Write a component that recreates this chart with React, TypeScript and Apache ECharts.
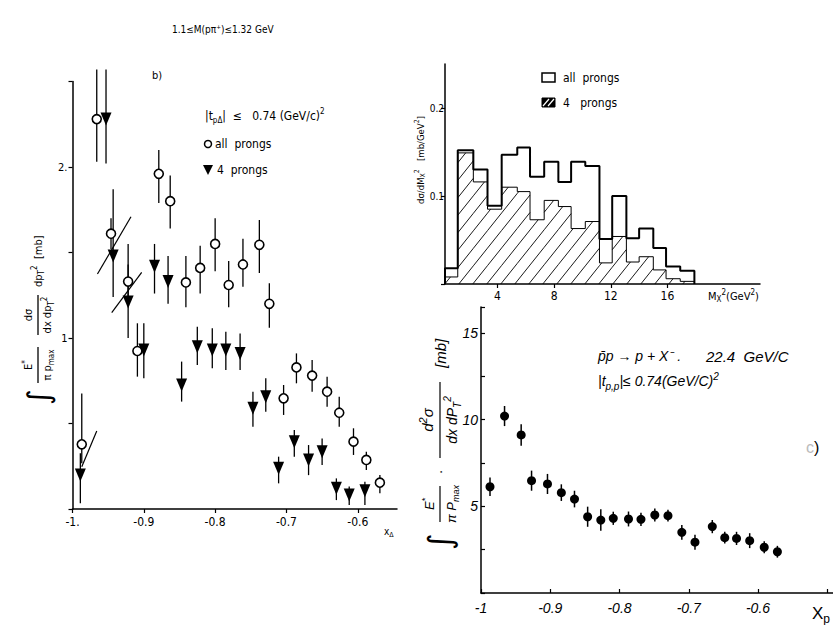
import React, { useEffect, useRef } from "react";
import * as echarts from "echarts";

// ---- Panel b): all prongs (open circles) ----
const leftAllX = [-0.987, -0.966, -0.946, -0.922, -0.909, -0.879, -0.863, -0.841, -0.821, -0.8, -0.781, -0.761, -0.738, -0.724, -0.704, -0.686, -0.664, -0.643, -0.626, -0.606, -0.588, -0.569];
const leftAllY = [0.378, 2.28, 1.61, 1.33, 0.924, 1.96, 1.8, 1.325, 1.41, 1.55, 1.31, 1.43, 1.545, 1.2, 0.647, 0.828, 0.78, 0.686, 0.563, 0.394, 0.287, 0.154];
const leftAllLo = [0.267, 2.03, 1.52, 1.24, 0.774, 1.79, 1.64, 1.18, 1.26, 1.39, 1.18, 1.3, 1.38, 1.06, 0.55, 0.735, 0.686, 0.598, 0.481, 0.316, 0.228, 0.092];
const leftAllHi = [0.676, 2.57, 1.7, 1.43, 1.086, 2.1, 1.95, 1.48, 1.54, 1.7, 1.45, 1.58, 1.69, 1.32, 0.725, 0.91, 0.871, 0.774, 0.657, 0.472, 0.335, 0.199];

// ---- Panel b): 4 prongs (filled down triangles) ----
const left4X = [-0.989, -0.953, -0.943, -0.922, -0.9, -0.885, -0.866, -0.847, -0.825, -0.804, -0.785, -0.765, -0.747, -0.729, -0.711, -0.689, -0.669, -0.65, -0.63, -0.612, -0.59];
const left4Y = [0.199, 2.28, 1.48, 1.21, 0.93, 1.42, 1.33, 0.725, 0.949, 0.93, 0.93, 0.91, 0.589, 0.657, 0.238, 0.394, 0.287, 0.335, 0.121, 0.082, 0.107];
const left4Lo = [0.033, 2.02, 1.24, 1.0, 0.764, 1.26, 1.2, 0.628, 0.842, 0.823, 0.813, 0.813, 0.481, 0.569, 0.15, 0.306, 0.198, 0.257, 0.052, 0.023, 0.023];
const left4Hi = [0.326, 2.57, 1.87, 1.55, 1.086, 1.55, 1.48, 0.862, 1.066, 1.057, 1.037, 1.027, 0.686, 0.764, 0.306, 0.462, 0.374, 0.413, 0.179, 0.131, 0.16];

// slanted strokes in panel b)
const slashX1 = [-0.965, -0.945, -0.987];
const slashY1 = [1.374, 1.148, 0.247];
const slashX2 = [-0.918, -0.903, -0.966];
const slashY2 = [1.709, 1.384, 0.456];

// ---- Histogram dσ/dM_X² ----
const histEdges = [0.3, 1.2, 2.3, 3.3, 4.3, 5.4, 6.3, 7.3, 8.3, 9.2, 10.2, 11.2, 12.1, 13.1, 14.0, 15.0, 15.9, 16.9, 17.9];
const histAll = [0.018, 0.152, 0.13, 0.089, 0.147, 0.155, 0.122, 0.139, 0.116, 0.139, 0.134, 0.051, 0.1, 0.052, 0.063, 0.041, 0.02, 0.015];
const hist4 = [0.008, 0.149, 0.116, 0.085, 0.11, 0.105, 0.073, 0.095, 0.088, 0.063, 0.071, 0.024, 0.054, 0.025, 0.031, 0.016, 0.006, 0.003];
const histTicks = [4, 8, 12, 16];

// ---- Panel c): p̄p → p + X⁻ ----
const rbX = [-0.987, -0.966, -0.942, -0.927, -0.904, -0.884, -0.865, -0.846, -0.827, -0.809, -0.787, -0.769, -0.749, -0.73, -0.71, -0.691, -0.666, -0.648, -0.631, -0.612, -0.591, -0.572];
const rbY = [6.13, 10.21, 9.12, 6.48, 6.29, 5.79, 5.42, 4.4, 4.21, 4.31, 4.27, 4.25, 4.5, 4.46, 3.5, 2.93, 3.83, 3.19, 3.15, 3.02, 2.64, 2.38];
const rbErr = [0.53, 0.58, 0.62, 0.58, 0.58, 0.48, 0.48, 0.58, 0.62, 0.38, 0.43, 0.38, 0.38, 0.34, 0.43, 0.43, 0.38, 0.34, 0.38, 0.43, 0.34, 0.34];

const COND = "'DejaVu Sans Condensed', 'DejaVu Sans', sans-serif";
const ITAL = "'Liberation Sans', Arial, sans-serif";

const ss = (size: number, family: string, style = "normal") => ({
  sub: { fontSize: Math.round(size * 0.7), fontFamily: family, fontStyle: style, verticalAlign: "bottom", lineHeight: Math.round(size * 0.6), fill: "#000" },
  sup: { fontSize: Math.round(size * 0.7), fontFamily: family, fontStyle: style, verticalAlign: "top", lineHeight: Math.round(size * 0.6), fill: "#000" },
  g: { fontSize: size, fontFamily: family, fontStyle: style, fill: "#bbb" },
});

const T = (x: number, y: number, text: string, o: any = {}) => {
  const size = o.size ?? 12;
  const family = o.family ?? COND;
  const fstyle = o.style ?? "normal";
  return {
    type: "text",
    x,
    y,
    silent: true,
    style: {
      text,
      fill: "#000",
      fontSize: size,
      fontFamily: family,
      fontStyle: fstyle,
      lineHeight: Math.round(size * 1.4),
      align: o.align ?? "left",
      textAlign: o.align ?? "left",
      verticalAlign: o.va ?? "middle",
      textVerticalAlign: o.va ?? "middle",
      rich: ss(size, family, fstyle),
    },
  };
};

const L = (x1: number, y1: number, x2: number, y2: number, w = 1.2, c = "#000") => ({
  type: "line",
  silent: true,
  shape: { x1, y1, x2, y2 },
  style: { stroke: c, lineWidth: w },
});

function stepPts(edges: number[], vals: number[]) {
  const pts: number[][] = [[edges[0], 0]];
  vals.forEach((v, i) => pts.push([edges[i], v]));
  pts.push([edges[edges.length - 1], vals[vals.length - 1]]);
  pts.push([edges[edges.length - 1], 0]);
  return pts;
}

const onTenth = (v: number) => Math.abs(v * 10 - Math.round(v * 10)) < 1e-6;

const errSeries = (xi: number, data: number[][], lw: number) => ({
  type: "custom",
  xAxisIndex: xi,
  yAxisIndex: xi,
  data,
  z: 1,
  silent: true,
  clip: false,
  encode: { x: 0, y: [1, 2] },
  renderItem: (_p: any, api: any) => {
    const a = api.coord([api.value(0), api.value(1)]);
    const b = api.coord([api.value(0), api.value(2)]);
    return { type: "line", shape: { x1: a[0], y1: a[1], x2: b[0], y2: b[1] }, style: { stroke: "#000", lineWidth: lw } };
  },
});

export default function App() {
  const ref = useRef<HTMLDivElement>(null);
  useEffect(() => {
    if (!ref.current) return;
    const chart = echarts.init(ref.current, undefined, { renderer: "svg" });
    const axisLine = { show: true, onZero: false, lineStyle: { color: "#000", width: 1.5 } };
    const tick = { show: true, length: 4, lineStyle: { color: "#000", width: 1.2 } };
    const noSplit = { show: false };

    const K = 1.25;
    const S = 17.5;

    const option: any = {
      animation: false,
      backgroundColor: "#fff",
      grid: [
        { left: 72.5, top: 81.5, width: 324.5, height: 427.5 },
        { left: 445, top: 64, width: 315, height: 220 },
        { left: 481, top: 307, width: 352, height: 286 },
      ],
      xAxis: [
        {
          gridIndex: 0, type: "value", min: -1, max: -0.545, interval: 0.1,
          axisLine, axisTick: tick, splitLine: noSplit,
          axisLabel: {
            color: "#000", fontSize: 12, fontFamily: COND, margin: 7, showMaxLabel: false,
            formatter: (v: number) => (!onTenth(v) || v > -0.55 ? "" : Math.abs(v + 1) < 1e-6 ? "-1." : v.toFixed(1)),
          },
        },
        {
          gridIndex: 1, type: "value", min: 0.3, max: 22.53,
          axisLine, splitLine: noSplit,
          axisTick: { ...tick, customValues: histTicks },
          axisLabel: { color: "#000", fontSize: 12, fontFamily: COND, margin: 6, customValues: histTicks },
        },
        {
          gridIndex: 2, type: "value", min: -1, max: -0.4917, interval: 0.1,
          axisLine, axisTick: { ...tick, inside: true }, splitLine: noSplit,
          axisLabel: {
            color: "#000", fontSize: 14, fontFamily: ITAL, fontStyle: "italic", margin: 8, showMaxLabel: false,
            formatter: (v: number) => (!onTenth(v) || v > -0.55 ? "" : Math.abs(v + 1) < 1e-6 ? "-1" : v.toFixed(1)),
          },
        },
      ],
      yAxis: [
        {
          gridIndex: 0, type: "value", min: 0, max: 2.5, interval: 0.5,
          axisLine, axisTick: tick, splitLine: noSplit,
          axisLabel: { color: "#000", fontSize: 11, fontFamily: COND, margin: 5, formatter: (v: number) => (v === 1 ? "1" : v === 2 ? "2." : "") },
        },
        {
          gridIndex: 1, type: "value", min: 0, max: 0.25, interval: 0.1,
          axisLine, axisTick: tick, splitLine: noSplit,
          axisLabel: {
            color: "#000", fontSize: 10, fontFamily: COND, margin: 1, showMaxLabel: false,
            formatter: (v: number) => (Math.abs(v - 0.1) < 1e-6 ? "0.1" : Math.abs(v - 0.2) < 1e-6 ? "0.2" : ""),
          },
        },
        {
          gridIndex: 2, type: "value", min: 0, max: 16.5, interval: 2.5,
          axisLine, axisTick: { ...tick, inside: true }, splitLine: noSplit,
          axisLabel: { color: "#000", fontSize: 14, fontFamily: ITAL, fontStyle: "italic", margin: 3, formatter: (v: number) => (v === 5 || v === 10 || v === 15 ? String(v) : "") },
        },
      ],
      series: [
        errSeries(0, leftAllX.map((x, i) => [x, leftAllLo[i], leftAllHi[i]]), 1.3),
        errSeries(0, left4X.map((x, i) => [x, left4Lo[i], left4Hi[i]]), 1.3),
        {
          type: "custom", xAxisIndex: 0, yAxisIndex: 0, silent: true, z: 1,
          data: slashX1.map((x, i) => [x, slashY1[i], slashX2[i], slashY2[i]]),
          renderItem: (_p: any, api: any) => {
            const a = api.coord([api.value(0), api.value(1)]);
            const b = api.coord([api.value(2), api.value(3)]);
            return { type: "line", shape: { x1: a[0], y1: a[1], x2: b[0], y2: b[1] }, style: { stroke: "#000", lineWidth: 1.2 } };
          },
        },
        {
          type: "scatter", xAxisIndex: 0, yAxisIndex: 0, z: 3, silent: true,
          data: leftAllX.map((x, i) => [x, leftAllY[i]]),
          symbol: "circle", symbolSize: 9,
          itemStyle: { color: "#fff", borderColor: "#000", borderWidth: 1.6, opacity: 1 },
        },
        {
          type: "scatter", xAxisIndex: 0, yAxisIndex: 0, z: 3, silent: true,
          data: left4X.map((x, i) => [x, left4Y[i]]),
          symbol: "triangle", symbolRotate: 180, symbolSize: [11, 13],
          itemStyle: { color: "#000", opacity: 1 },
        },
        // histogram hatching (4 prongs)
        {
          type: "custom", xAxisIndex: 1, yAxisIndex: 1, silent: true, z: 1,
          data: hist4.map((v, i) => [histEdges[i], histEdges[i + 1], v]),
          renderItem: (_p: any, api: any) => {
            const p0 = api.coord([api.value(0), 0]);
            const p1 = api.coord([api.value(1), api.value(2)]);
            const xl = p0[0], xr = p1[0], yb = p0[1], yt = p1[1];
            const children: any[] = [];
            const bMin = K * xl + yt, bMax = K * xr + yb;
            for (let n = Math.ceil(bMin / S); n * S <= bMax; n++) {
              const b = n * S;
              const xa = Math.max(xl, (b - yb) / K);
              const xb = Math.min(xr, (b - yt) / K);
              if (xb > xa) children.push({ type: "line", shape: { x1: xa, y1: b - K * xa, x2: xb, y2: b - K * xb }, style: { stroke: "#000", lineWidth: 0.9 } });
            }
            return { type: "group", children };
          },
        },
        {
          type: "line", xAxisIndex: 1, yAxisIndex: 1, step: "end", symbol: "none", silent: true, z: 2,
          data: stepPts(histEdges, hist4), lineStyle: { color: "#000", width: 1 },
        },
        {
          type: "line", xAxisIndex: 1, yAxisIndex: 1, step: "end", symbol: "none", silent: true, z: 3,
          data: stepPts(histEdges, histAll), lineStyle: { color: "#000", width: 2 },
        },
        // panel c)
        errSeries(2, rbX.map((x, i) => [x, rbY[i] - rbErr[i], rbY[i] + rbErr[i]]), 1.5),
        {
          type: "scatter", xAxisIndex: 2, yAxisIndex: 2, z: 3, silent: true,
          data: rbX.map((x, i) => [x, rbY[i]]),
          symbol: "circle", symbolSize: 9,
          itemStyle: { color: "#000", opacity: 1 },
        },
      ],
      graphic: [
        T(172, 29, "1.1≤M(pπ⁺)≤1.32 GeV", { size: 10 }),
        T(152, 75, "b)", { size: 11 }),
        T(205, 116, "|t{sub|pΔ}|  ≤   0.74 (GeV/c){sup|2}", { size: 12 }),
        { type: "circle", silent: true, shape: { cx: 208, cy: 144, r: 3.5 }, style: { fill: "#fff", stroke: "#000", lineWidth: 1.5 } },
        T(215, 144, "all  prongs", { size: 12 }),
        { type: "polygon", silent: true, shape: { points: [[203, 165], [213, 165], [208, 175]] }, style: { fill: "#000" } },
        T(217, 170, "4  prongs", { size: 12 }),
        T(384, 531, "x{sub|Δ}", { size: 10 }),
        {
          type: "group", x: 38, y: 405, rotation: Math.PI / 2, silent: true,
          children: [
            T(0, 0, "∫", { size: 30, family: "'DejaVu Sans', sans-serif" }),
            L(22, 0, 58, 0, 1.3),
            T(40, -2, "E{sup|*}", { size: 11, align: "center", va: "bottom" }),
            T(40, 2, "π p{sub|max}", { size: 11, align: "center", va: "top" }),
            L(70, 0, 110, 0, 1.3),
            T(90, -2, "dσ", { size: 11, align: "center", va: "bottom" }),
            T(90, 2, "dx dp{sub|T}{sup|2}", { size: 11, align: "center", va: "top" }),
            T(118, 0, "dp{sub|T}{sup|2}", { size: 11 }),
            T(146, 0, "[mb]", { size: 11 }),
          ],
        },
        // histogram legend & labels
        { type: "rect", silent: true, shape: { x: 542, y: 73, width: 13, height: 9 }, style: { fill: "#fff", stroke: "#000", lineWidth: 1.5 } },
        T(563, 78, "all  prongs", { size: 12 }),
        { type: "rect", silent: true, shape: { x: 542, y: 98, width: 13, height: 9 }, style: { fill: "#000", stroke: "#000", lineWidth: 1 } },
        L(543, 106, 549, 99, 1.2, "#fff"),
        L(548, 106, 554, 99, 1.2, "#fff"),
        T(563, 103, "4   prongs", { size: 12 }),
        T(708, 296, "M{sub|X}{sup|2}(GeV{sup|2})", { size: 11 }),
        {
          type: "group", x: 420, y: 160, rotation: Math.PI / 2, silent: true,
          children: [T(0, 0, "dσ/dM{sub|X}{sup|2}   [mb/GeV{sup|2}]", { size: 9.5, align: "center" })],
        },
        // panel c) texts
        T(598, 356, "p̄p → p + X⁻ .", { size: 14, family: ITAL, style: "italic" }),
        T(706, 356, "22.4  GeV/C", { size: 15, family: ITAL, style: "italic" }),
        T(598, 381, "|t{sub|p,p}|≤ 0.74(GeV/C){sup|2}", { size: 14, family: ITAL, style: "italic" }),
        T(806, 447, "{g|c})", { size: 16, family: ITAL }),
        T(812, 613, "X{sub|p}", { size: 17, family: ITAL }),
        {
          type: "group", x: 440, y: 550, rotation: Math.PI / 2, silent: true,
          children: [
            T(0, 0, "∫", { size: 32, family: "'DejaVu Sans', sans-serif" }),
            L(28, 0, 64, 0, 1.2),
            T(46, -2, "E{sup|*}", { size: 13, family: ITAL, style: "italic", align: "center", va: "bottom" }),
            T(46, 2, "π P{sub|max}", { size: 13, family: ITAL, style: "italic", align: "center", va: "top" }),
            T(78, 0, "·", { size: 14, family: ITAL, align: "center" }),
            L(92, 0, 168, 0, 1.2),
            T(130, -2, "d{sup|2}σ", { size: 15, family: ITAL, style: "italic", align: "center", va: "bottom" }),
            T(130, 2, "dx dP{sub|T}{sup|2}", { size: 14, family: ITAL, style: "italic", align: "center", va: "top" }),
            T(182, 0, "[mb]", { size: 15, family: ITAL, style: "italic" }),
          ],
        },
      ],
    };
    chart.setOption(option);
    return () => chart.dispose();
  }, []);
  return <div ref={ref} style={{ position: "fixed", left: 0, top: 0, width: 833, height: 625, background: "#fff" }} />;
}
